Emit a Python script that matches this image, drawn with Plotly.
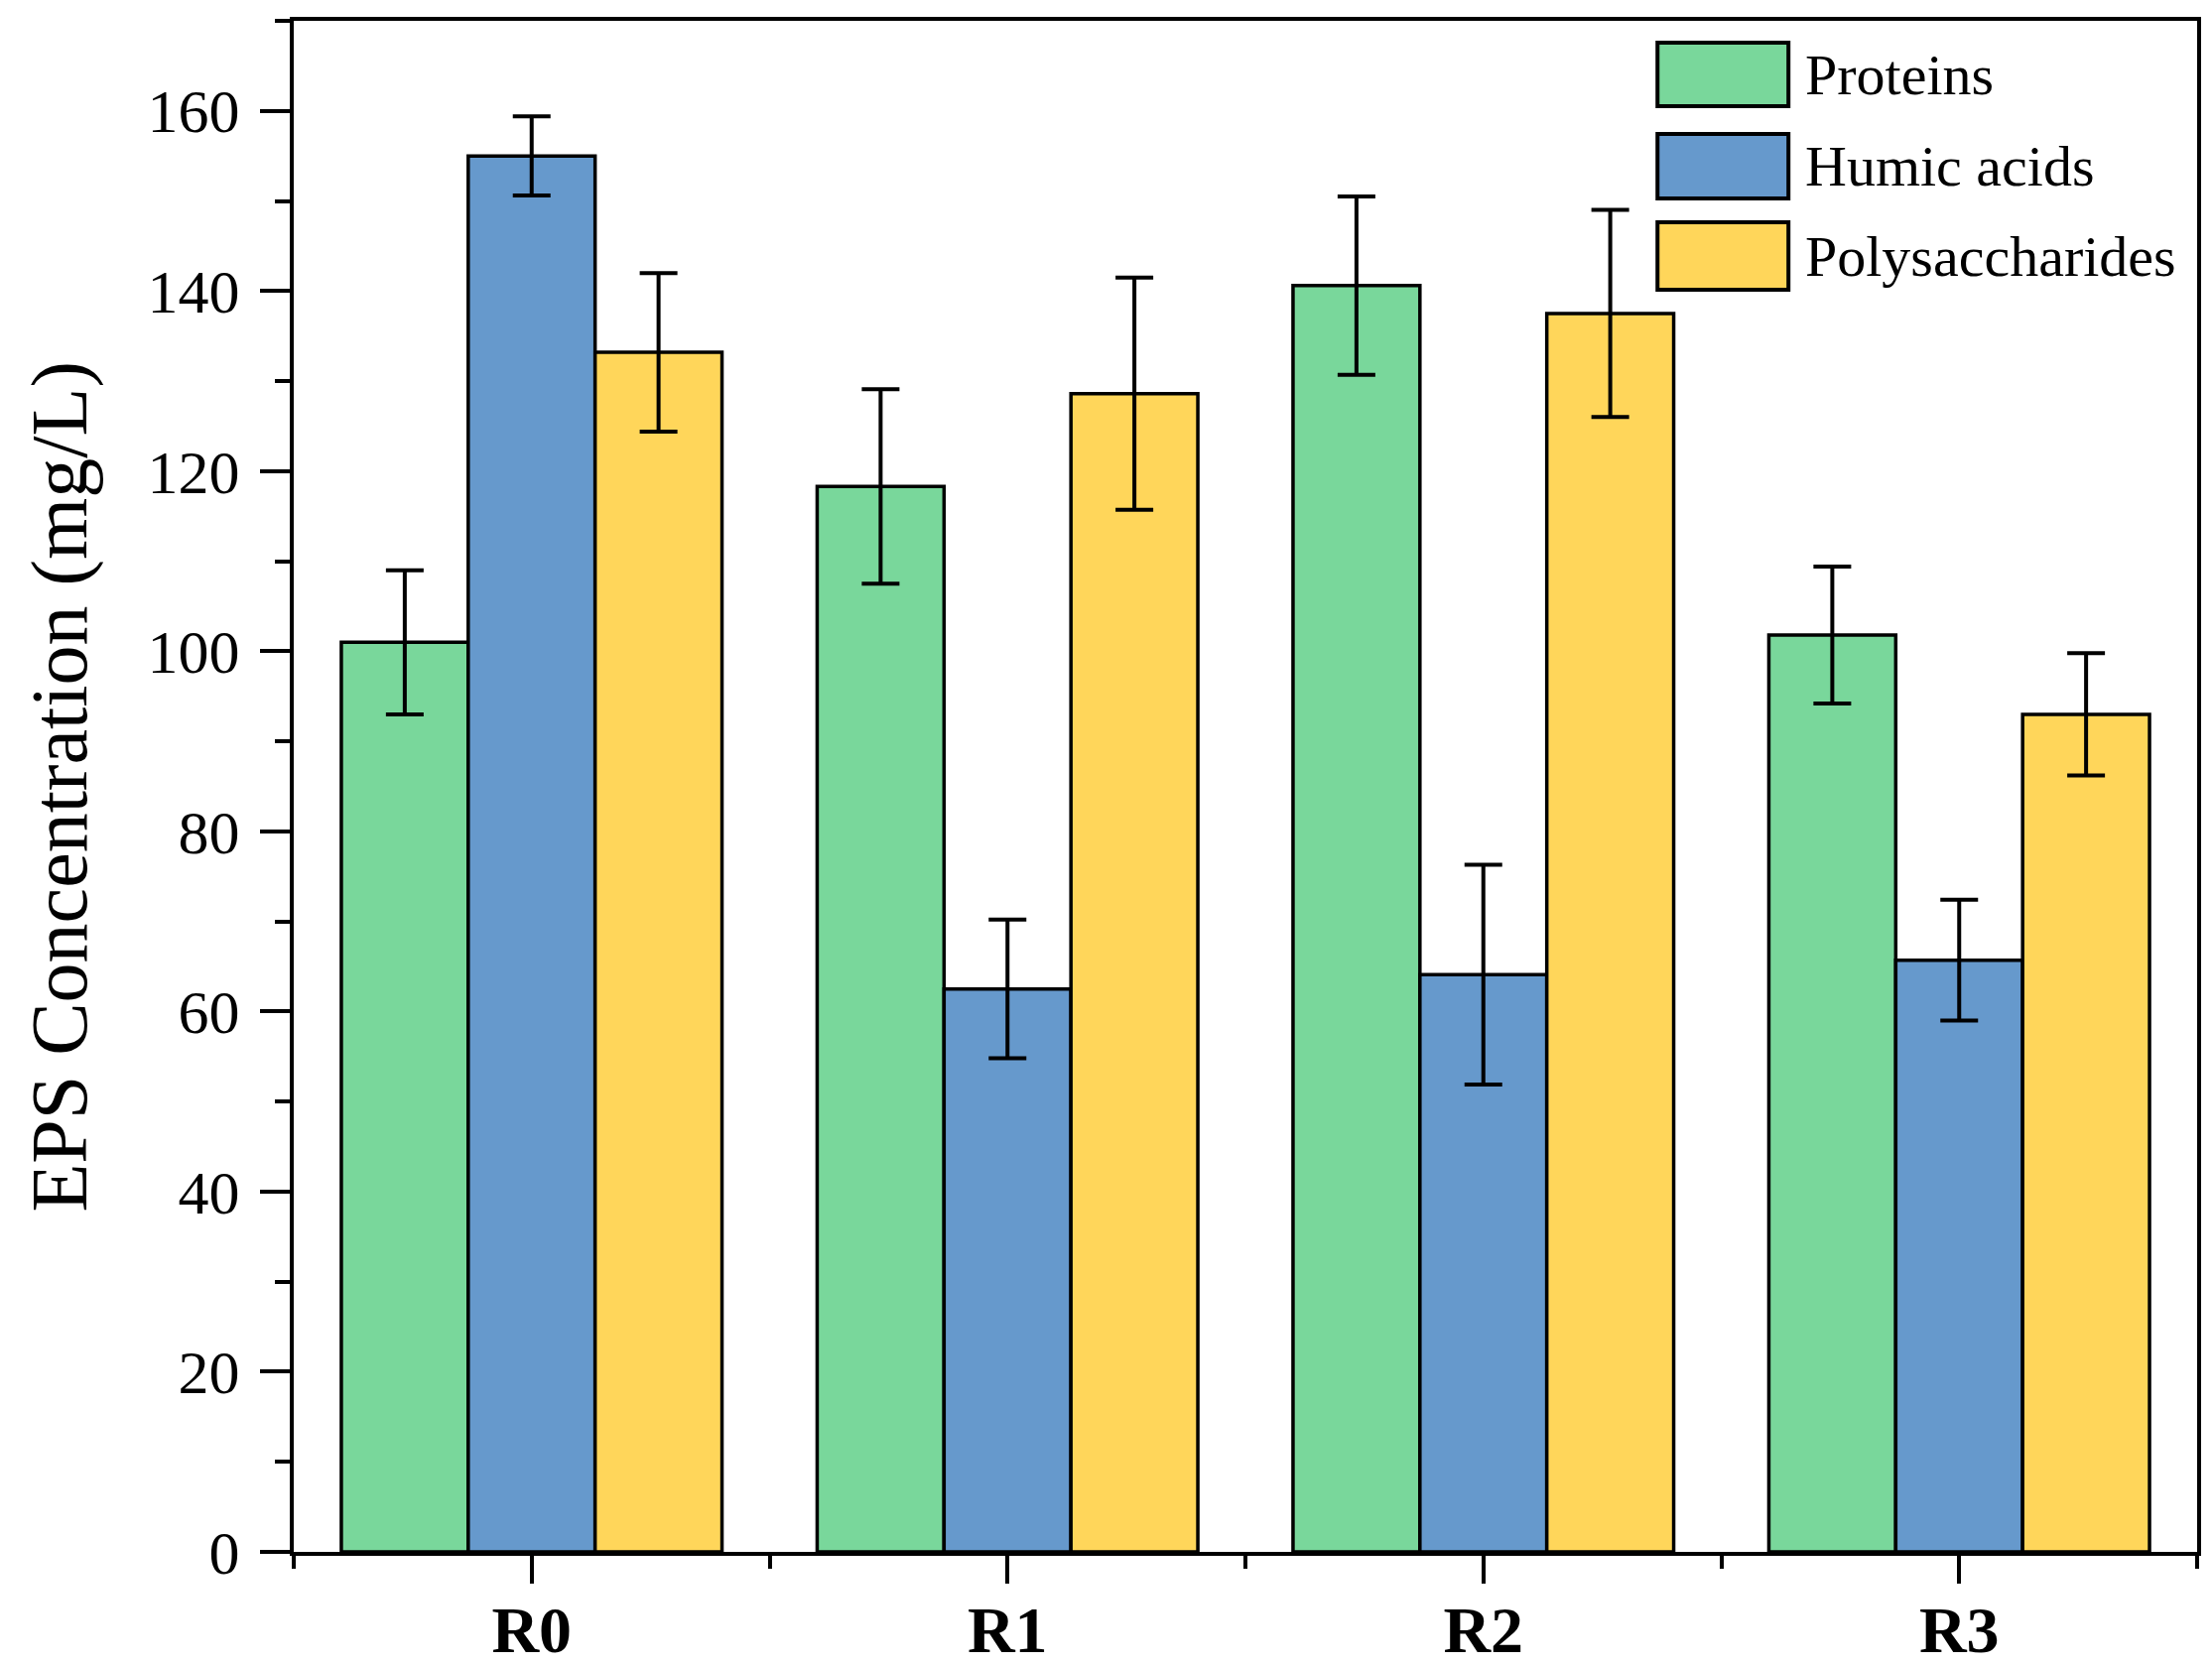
import plotly.graph_objects as go

categories = ["R0", "R1", "R2", "R3"]
series_names = ["Proteins", "Humic acids", "Polysaccharides"]
proteins = [101.0, 118.3, 140.6, 101.8]
proteins_err = [8.0, 10.8, 9.9, 7.6]
humic = [155.0, 62.5, 64.1, 65.7]
humic_err = [4.4, 7.7, 12.2, 6.7]
polysacch = [133.2, 128.6, 137.5, 93.0]
polysacch_err = [8.8, 12.9, 11.5, 6.8]
colors = ["#79D79B", "#6699CC", "#FFD65A"]
y_ticks = [0, 20, 40, 60, 80, 100, 120, 140, 160]
y_title = "EPS Concentration (mg/L)"

x_pos = list(range(len(categories)))
values = [proteins, humic, polysacch]
errors = [proteins_err, humic_err, polysacch_err]

FONT = "Liberation Serif"

fig = go.Figure()
for name, vals, errs, col in zip(series_names, values, errors, colors):
    fig.add_trace(go.Bar(
        x=x_pos, y=vals, name=name,
        marker=dict(color=col, line=dict(color="black", width=3.5)),
        error_y=dict(type="data", array=errs, visible=True,
                     color="black", thickness=4, width=19),
        showlegend=False,
    ))

# custom legend (large boxes as in reference)
box_x0, box_x1, text_x = 0.7165, 0.7853, 0.793
rows = [(0.9443, 0.9857), (0.884, 0.9261), (0.8244, 0.8684)]
for (y0, y1), name, col in zip(rows, series_names, colors):
    fig.add_shape(type="rect", xref="x domain", yref="y domain",
                  x0=box_x0, x1=box_x1, y0=y0, y1=y1,
                  fillcolor=col, line=dict(color="black", width=4))
    fig.add_annotation(xref="x domain", yref="y domain", x=text_x, y=(y0 + y1) / 2,
                       text=name, showarrow=False, xanchor="left", yanchor="middle",
                       font=dict(family=FONT, size=58, color="black"))

# y-axis title
fig.add_annotation(xref="paper", yref="paper", x=-0.123, y=0.5, text=y_title,
                   textangle=-90, showarrow=False, xanchor="center", yanchor="middle",
                   font=dict(family=FONT, size=80, color="black"))

fig.update_layout(
    width=2229, height=1678,
    margin=dict(l=288, r=23, t=13, b=122, autoexpand=False),
    paper_bgcolor="white", plot_bgcolor="white",
    barmode="group", bargap=0.2, bargroupgap=0,
    font=dict(family=FONT, color="black"),
)
fig.update_xaxes(
    range=[-0.5, 3.5], tickmode="array", tickvals=x_pos, ticktext=categories,
    tickfont=dict(family=FONT, size=66, color="black", weight="bold"),
    ticks="outside", ticklen=28, tickwidth=4, tickcolor="black",
    minor=dict(tickmode="array", tickvals=[-0.5, 0.5, 1.5, 2.5, 3.5],
               ticks="outside", ticklen=13, tickwidth=4, tickcolor="black"),
    showline=True, linecolor="black", linewidth=4, mirror=True,
    showgrid=False, zeroline=False, ticklabelstandoff=-10, automargin=False,
)
fig.update_yaxes(
    range=[0, 170], tickmode="array", tickvals=y_ticks,
    tickfont=dict(family=FONT, size=62, color="black"),
    ticks="outside", ticklen=30, tickwidth=4, tickcolor="black",
    minor=dict(dtick=10, tick0=0, ticks="outside", ticklen=15, tickwidth=4, tickcolor="black"),
    showline=True, linecolor="black", linewidth=4, mirror=True,
    showgrid=False, zeroline=False, ticklabelstandoff=8, automargin=False,
)

fig.write_html("out.html")
